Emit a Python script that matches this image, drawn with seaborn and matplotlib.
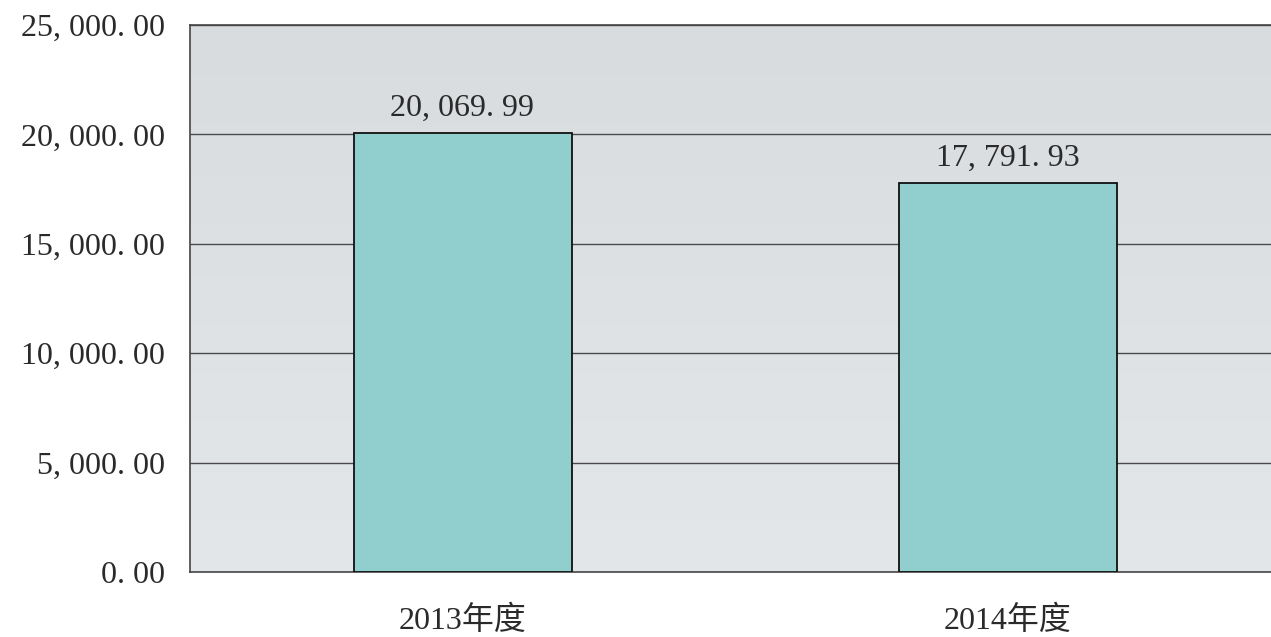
import numpy as np
import pandas as pd
import matplotlib
matplotlib.use("Agg")
import matplotlib.pyplot as plt
import seaborn as sns
from matplotlib.colors import LinearSegmentedColormap

categories = ["2013年度", "2014年度"]
values = [20069.99, 17791.93]
y_ticks = [0, 5000, 10000, 15000, 20000, 25000]

sns.set_theme(style="white")
plt.rcParams['font.family'] = ['Liberation Serif', 'Noto Sans CJK SC', 'DejaVu Sans']

df = pd.DataFrame({"year": categories, "value": values})

fig = plt.figure(figsize=(12.71, 6.37), dpi=100)
ax = fig.add_axes([190/1271, 65/637, 1090/1271, 547/637])

# gradient background (darker at top)
cmap = LinearSegmentedColormap.from_list("bg", ["#d9dcdf", "#e4e7e9"])
grad = np.linspace(0, 1, 256).reshape(-1, 1)
ax.imshow(grad, aspect="auto", cmap=cmap, extent=[-0.5, 1.5, 0, 25000],
          zorder=0, origin="upper")

sns.barplot(data=df, x="year", y="value", color="#90cfce", width=0.40,
            edgecolor="#111111", linewidth=1.3, saturation=1, ax=ax, zorder=3)

ax.set_xlim(-0.5, 1.5)
ax.set_ylim(0, 25000)
ax.set_yticks(y_ticks)
ax.set_yticklabels([f"{v:,.2f}".replace(",", ", ").replace(".", ". ") for v in y_ticks])
for v in y_ticks[1:]:
    ax.axhline(v, color="#4a4a4a", linewidth=1.0, zorder=2)

for i, v in enumerate(values):
    ax.annotate(f"{v:,.2f}".replace(",", ", ").replace(".", ". "), (i, v),
                xytext=(0, 7), textcoords="offset points", ha="center", va="bottom",
                fontsize=23, color="#2a2a2a")

ax.set_xlabel("")
ax.set_ylabel("")
ax.tick_params(axis="y", direction="in", length=8, width=1, color="#333333",
               labelsize=23, labelcolor="#2a2a2a", pad=18)
ax.tick_params(axis="x", which="major", length=0, labelsize=23, labelcolor="#2a2a2a", pad=24)
ax.set_xticks([0.5], minor=True)
ax.tick_params(axis="x", which="minor", direction="in", length=8, width=1, color="#333333")

for s in ["left", "bottom", "top"]:
    ax.spines[s].set_visible(True)
    ax.spines[s].set_color("#444444")
    ax.spines[s].set_linewidth(1.2)
ax.spines["right"].set_visible(False)

fig.savefig("out.png", dpi=100)
